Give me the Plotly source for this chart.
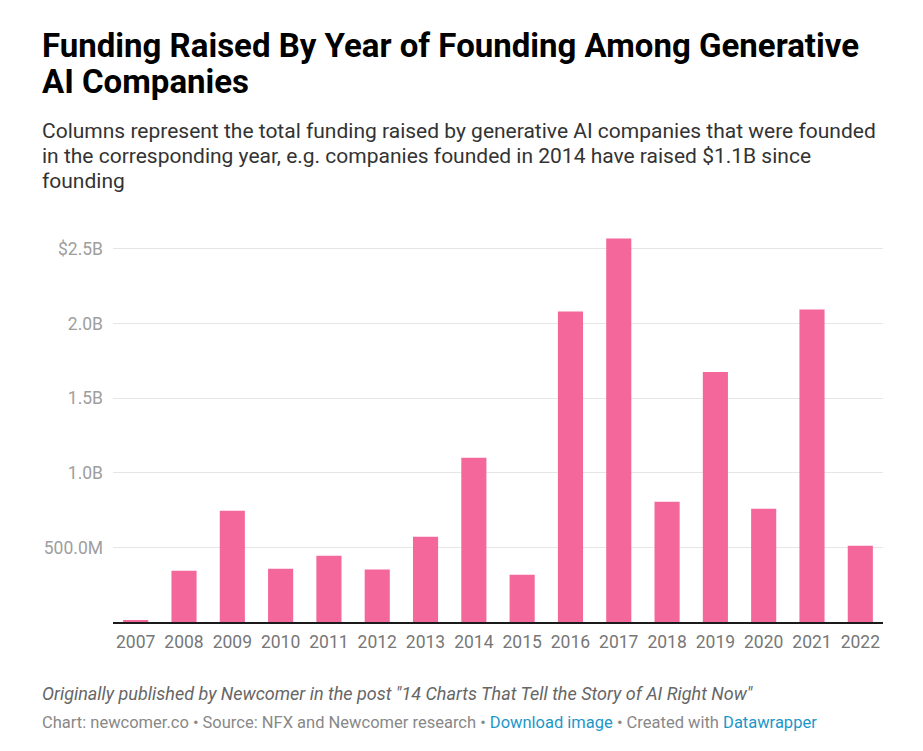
import plotly.graph_objects as go

years = ["2007", "2008", "2009", "2010", "2011", "2012", "2013", "2014",
         "2015", "2016", "2017", "2018", "2019", "2020", "2021", "2022"]
funding_b = [0.01, 0.344, 0.745, 0.357, 0.444, 0.351, 0.571, 1.10,
             0.317, 2.08, 2.57, 0.805, 1.675, 0.759, 2.094, 0.511]
ytick_vals = [0.5, 1.0, 1.5, 2.0, 2.5]
ytick_text = ["500.0M", "1.0B", "1.5B", "2.0B", "$2.5B"]

title_lines = ["Funding Raised By Year of Founding Among Generative", "AI Companies"]
subtitle_lines = [
    "Columns represent the total funding raised by generative AI companies that were founded",
    "in the corresponding year, e.g. companies founded in 2014 have raised $1.1B since",
    "founding",
]
note_text = 'Originally published by Newcomer in the post "14 Charts That Tell the Story of AI Right Now"'

# page has an 8px body margin; figure is sized to fit inside the window
OFF = 8
W, H = 915, 743
ML, MR, MT, MB = 105, 40, 225.5, 128.5

fig = go.Figure()
fig.add_trace(go.Bar(
    x=years, y=funding_b,
    marker=dict(color="#f4679b", line=dict(width=0)),
    hoverinfo="x+y",
))

fig.update_layout(
    width=W, height=H,
    margin=dict(l=ML, r=MR, t=MT, b=MB),
    paper_bgcolor="white", plot_bgcolor="white",
    bargap=0.48,
    showlegend=False,
    font=dict(family="Roboto", color="#333333"),
    xaxis=dict(
        range=[-0.47, 15.47],
        showgrid=False,
        showline=True, linecolor="#1a1a1a", linewidth=2,
        ticks="", tickfont=dict(size=17.5, color="#777777"),
        ticklabelstandoff=3,
        fixedrange=True,
    ),
    yaxis=dict(
        range=[0, 2.6],
        tickvals=ytick_vals, ticktext=ytick_text,
        showgrid=True, gridcolor="#e6e6e6", gridwidth=1,
        zeroline=False, showline=False,
        ticks="", tickfont=dict(size=17.5, color="#9e9e9e"),
        ticklabelstandoff=9,
        fixedrange=True,
    ),
)

def txt(x_page, baseline_page, text, size, color, bold=False, italic=False):
    x = x_page - OFF - 2
    bottom = baseline_page - OFF + 0.32 * size
    fig.add_annotation(
        xref="paper", yref="paper",
        x=(x - ML) / (W - ML - MR), y=1 - (bottom - MT) / (H - MT - MB),
        xanchor="left", yanchor="bottom",
        text=text, showarrow=False,
        font=dict(size=size, color=color,
                  family="Roboto",
                  weight=700 if bold else 400,
                  style="italic" if italic else "normal"),
        align="left",
    )

for i, line in enumerate(title_lines):
    txt(42, 56 + i * 36, line, 33, "#000000", bold=True)
for i, line in enumerate(subtitle_lines):
    txt(42, 137.5 + i * 25, line, 21, "#333333")

txt(42, 701, note_text, 18, "#666666", italic=True)
footer = ('Chart: newcomer.co • Source: NFX and Newcomer research • '
          '<span style="color:#1d97c9">Download image</span> • Created with '
          '<span style="color:#1d97c9">Datawrapper</span>')
txt(42, 730, footer, 16.5, "#888888")

fig.write_html("out.html")
